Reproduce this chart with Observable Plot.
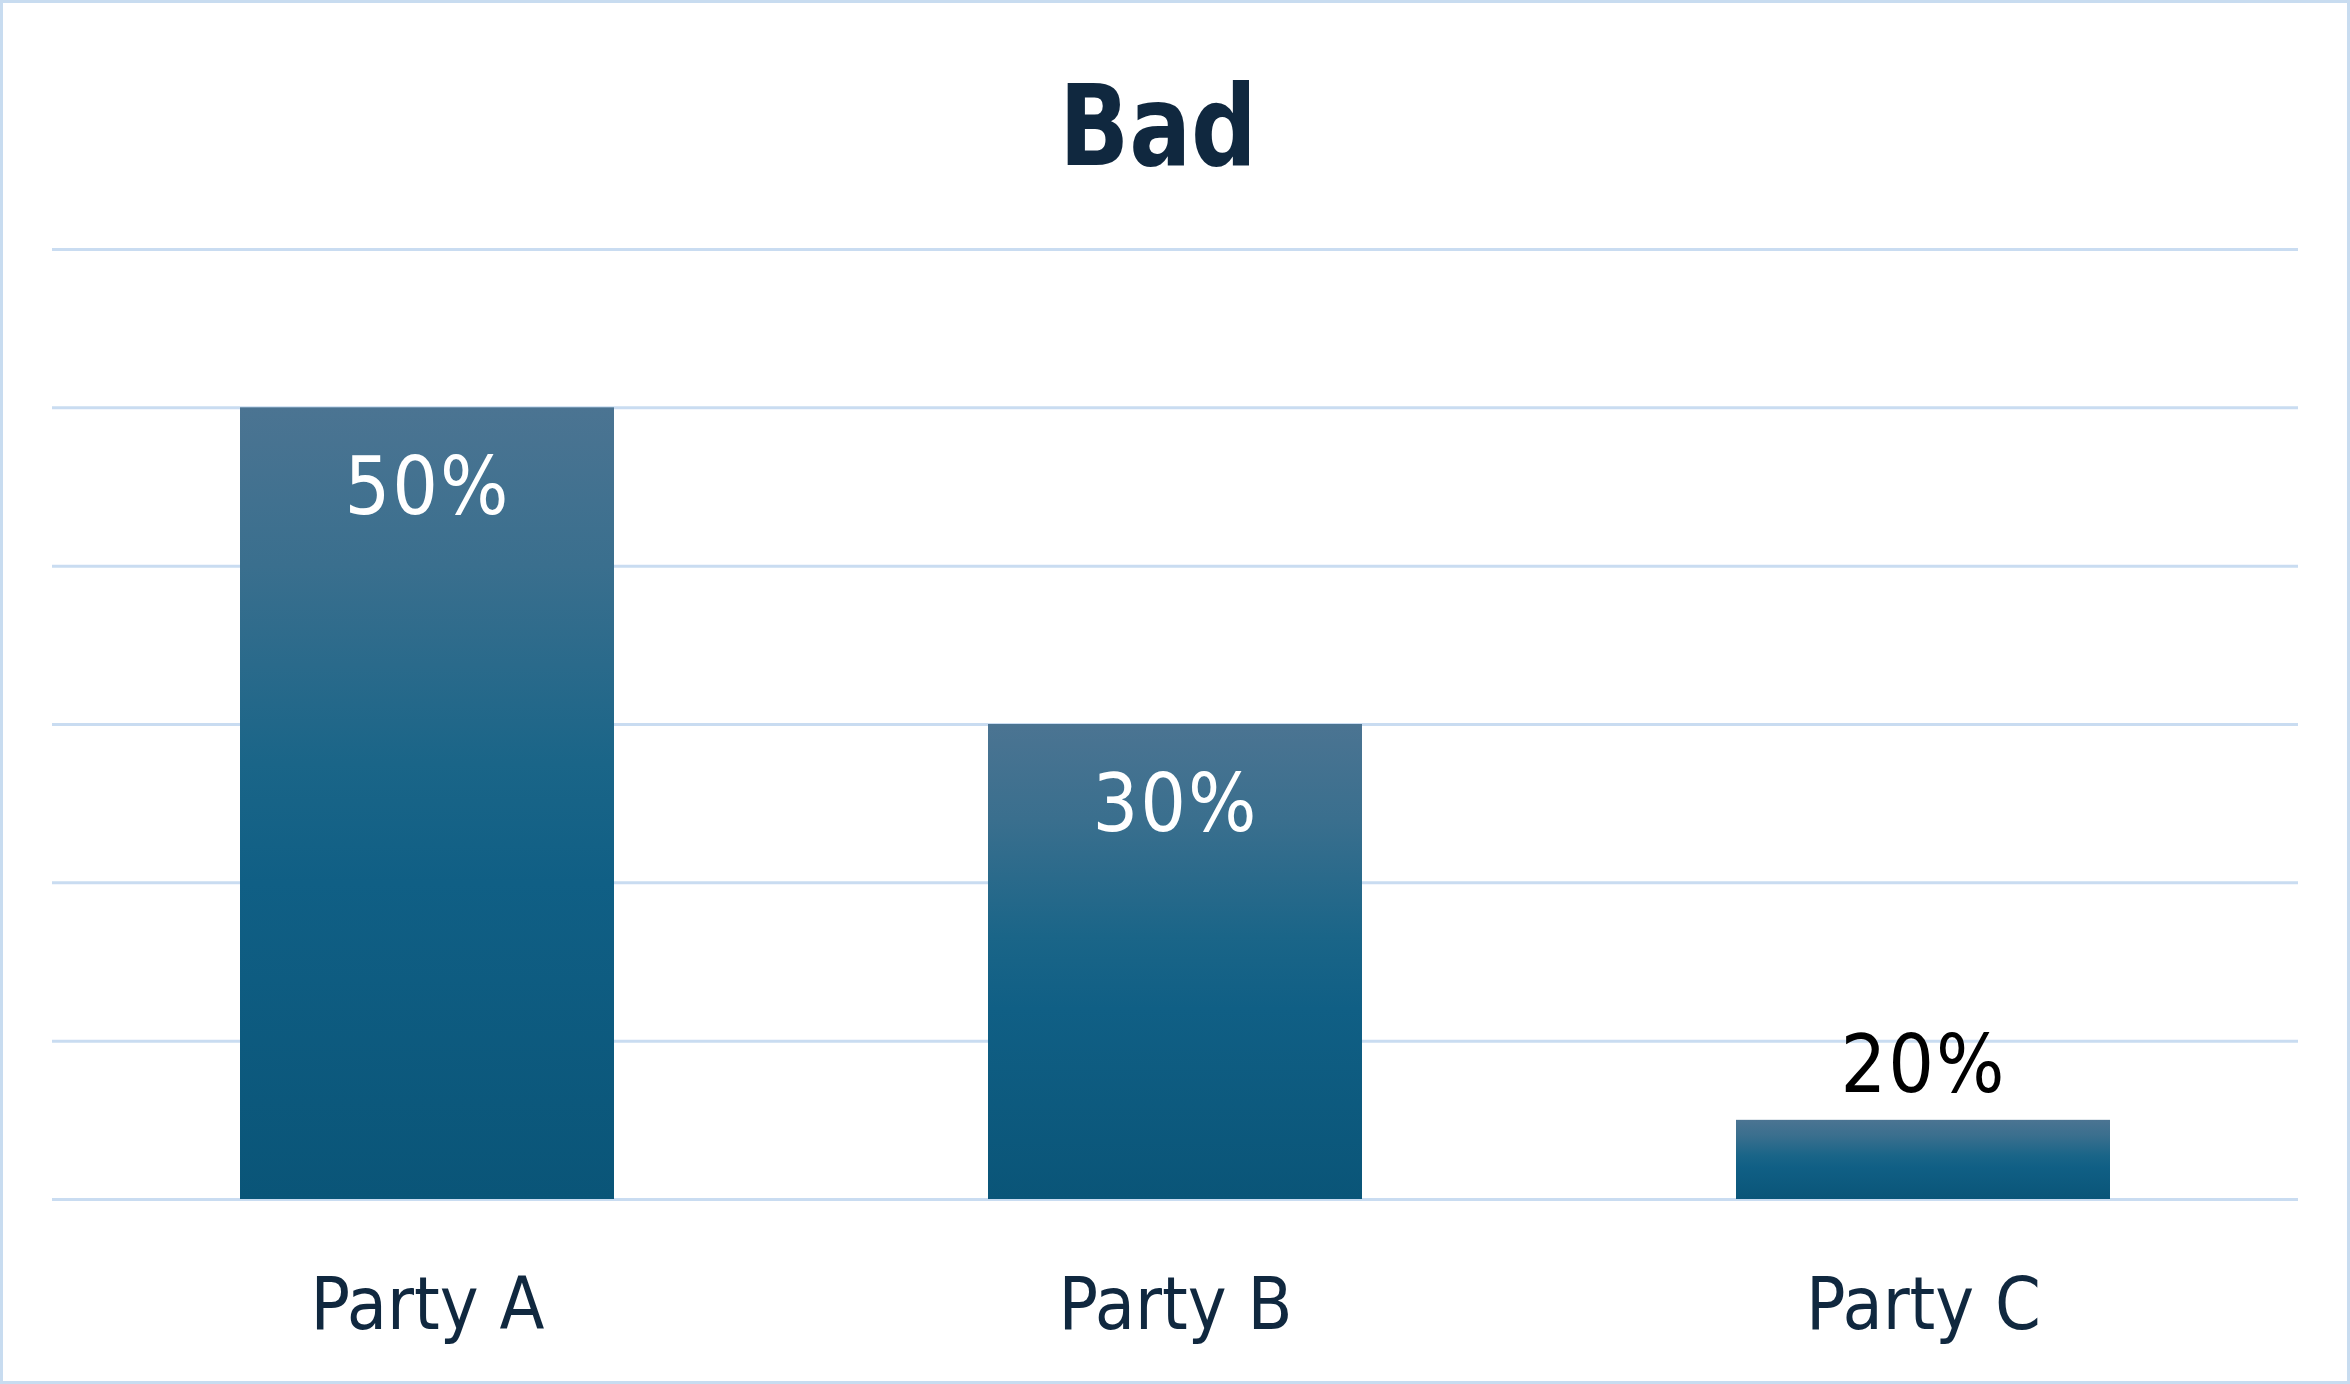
<!DOCTYPE html>
<html>
<head>
<meta charset="utf-8">
<script src="https://cdn.jsdelivr.net/npm/d3@7"></script>
<script src="https://cdn.jsdelivr.net/npm/@observablehq/plot@0.6"></script>
<style>
  html, body { margin: 0; padding: 0; background: #fff; }
  #frame { position: absolute; left: 0; top: 0; width: 2350px; height: 1384px; box-sizing: border-box; border: 3px solid #c8dcf0; }
  #title { position: absolute; left: 0; top: 56px; width: 2316px; text-align: center; font-family: "DejaVu Sans Condensed", sans-serif; font-weight: bold; font-size: 112px; line-height: 140px; color: #10283f; transform: scaleX(0.91); transform-origin: 1158px 0; }
  #chart { position: absolute; left: 0; top: 0; }
</style>
</head>
<body>
<div id="frame"></div>
<div id="title">Bad</div>
<div id="chart"></div>
<script>
const parties = ["Party A", "Party B", "Party C"];
const barValues = [50, 30, 5];
const labels = ["50%", "30%", "20%"];
const gridTicks = [0, 10, 20, 30, 40, 50, 60];

const data = parties.map((p, i) => ({party: p, value: barValues[i], label: labels[i]}));
const font = `"DejaVu Sans Condensed", sans-serif`;

const chart = Plot.plot({
  width: 2350,
  height: 1384,
  marginTop: 249,
  marginBottom: 185,
  marginLeft: 52,
  marginRight: 52,
  style: {fontFamily: font, background: "transparent"},
  x: {domain: parties, paddingInner: 0.5, paddingOuter: 0.25, label: null},
  y: {domain: [0, 60], axis: null},
  marks: [
    Plot.ruleY(gridTicks, {stroke: "#c9dcf1", strokeWidth: 3}),
    Plot.barY(data, {x: "party", y: "value", fill: "url(#barGrad)"}),
    Plot.text(data.filter(d => d.value > 10), {x: "party", y: "value", text: "label", fill: "white", fontSize: 80, lineAnchor: "bottom", dy: 106}),
    Plot.text(data.filter(d => d.value <= 10), {x: "party", y: "value", text: "label", fill: "black", fontSize: 80, lineAnchor: "bottom", dy: -28}),
    Plot.axisX({tickSize: 0, tickPadding: 78, fontSize: 73, color: "#10283f", label: null})
  ]
});

const svg = d3.select(chart);
svg.selectAll("g[aria-label='text'] text").style("letter-spacing", "2px");
const defs = svg.insert("defs", ":first-child");
const g = defs.append("linearGradient").attr("id", "barGrad").attr("x1", 0).attr("y1", 0).attr("x2", 0).attr("y2", 1);
[[0, "#4b7492"], [0.2, "#3a6f8e"], [0.45, "#1a6588"], [0.6, "#105f85"], [1, "#0a5578"]].forEach(([o, c]) =>
  g.append("stop").attr("offset", o).attr("stop-color", c));

document.getElementById("chart").appendChild(chart);
</script>
</body>
</html>
